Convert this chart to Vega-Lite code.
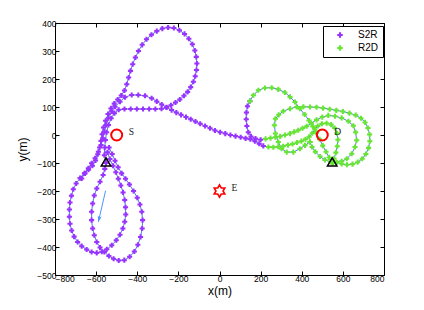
{
"$schema":"https://vega.github.io/schema/vega-lite/v6.json",
"width":329,"height":252,
"autosize":{"type":"none"},
"padding":{"left":55,"top":23,"right":40,"bottom":35},
"background":"white",
"config":{
 "view":{"stroke":"black","strokeWidth":1},
 "font":"Liberation Sans",
 "axis":{"grid":false,"domain":false,"tickColor":"black","tickSize":-4,"labelFontSize":8.5,"labelColor":"black","titleFontSize":12,"titleFontWeight":"normal","titleColor":"black","labelFont":"Liberation Sans","titleFont":"Liberation Sans"}
},
"datasets":{
"traj":[
{"s":"a","p":"S2R","x":-552,"y":-100},{"s":"a","p":"S2R","x":-560,"y":-72},{"s":"a","p":"S2R","x":-558,"y":-45},{"s":"a","p":"S2R","x":-555,"y":-18},{"s":"a","p":"S2R","x":-549,"y":10},{"s":"a","p":"S2R","x":-540,"y":36},{"s":"a","p":"S2R","x":-527,"y":60},{"s":"a","p":"S2R","x":-511,"y":78},{"s":"a","p":"S2R","x":-490,"y":90},{"s":"a","p":"S2R","x":-462,"y":93},{"s":"a","p":"S2R","x":-432,"y":93},{"s":"a","p":"S2R","x":-402,"y":93},{"s":"a","p":"S2R","x":-372,"y":93},{"s":"a","p":"S2R","x":-342,"y":93},{"s":"a","p":"S2R","x":-312,"y":93},{"s":"a","p":"S2R","x":-282,"y":94},{"s":"a","p":"S2R","x":-258,"y":98},{"s":"a","p":"S2R","x":-236,"y":106},{"s":"a","p":"S2R","x":-214,"y":116},{"s":"a","p":"S2R","x":-193,"y":127},{"s":"a","p":"S2R","x":-173,"y":140},{"s":"a","p":"S2R","x":-155,"y":154},{"s":"a","p":"S2R","x":-140,"y":171},{"s":"a","p":"S2R","x":-127,"y":190},{"s":"a","p":"S2R","x":-118,"y":210},{"s":"a","p":"S2R","x":-112,"y":232},{"s":"a","p":"S2R","x":-110,"y":255},{"s":"a","p":"S2R","x":-113,"y":279},{"s":"a","p":"S2R","x":-120,"y":302},{"s":"a","p":"S2R","x":-132,"y":324},{"s":"a","p":"S2R","x":-149,"y":344},{"s":"a","p":"S2R","x":-170,"y":361},{"s":"a","p":"S2R","x":-195,"y":374},{"s":"a","p":"S2R","x":-222,"y":382},{"s":"a","p":"S2R","x":-250,"y":384},{"s":"a","p":"S2R","x":-278,"y":380},{"s":"a","p":"S2R","x":-305,"y":371},{"s":"a","p":"S2R","x":-331,"y":358},{"s":"a","p":"S2R","x":-355,"y":342},{"s":"a","p":"S2R","x":-376,"y":322},{"s":"a","p":"S2R","x":-394,"y":300},{"s":"a","p":"S2R","x":-409,"y":277},{"s":"a","p":"S2R","x":-422,"y":253},{"s":"a","p":"S2R","x":-433,"y":229},{"s":"a","p":"S2R","x":-442,"y":205},{"s":"a","p":"S2R","x":-451,"y":181},{"s":"a","p":"S2R","x":-462,"y":159},{"s":"a","p":"S2R","x":-478,"y":141},{"s":"a","p":"S2R","x":-495,"y":127},{"s":"a","p":"S2R","x":-512,"y":112},{"s":"a","p":"S2R","x":-528,"y":95},{"s":"a","p":"S2R","x":-542,"y":75},{"s":"a","p":"S2R","x":-554,"y":51},{"s":"a","p":"S2R","x":-564,"y":27},{"s":"a","p":"S2R","x":-571,"y":3},{"s":"a","p":"S2R","x":-576,"y":-21},{"s":"a","p":"S2R","x":-583,"y":-45},{"s":"a","p":"S2R","x":-592,"y":-69},{"s":"a","p":"S2R","x":-603,"y":-91},{"s":"a","p":"S2R","x":-618,"y":-110},{"s":"a","p":"S2R","x":-637,"y":-124},{"s":"a","p":"S2R","x":-657,"y":-137},{"s":"a","p":"S2R","x":-678,"y":-154},{"s":"a","p":"S2R","x":-697,"y":-173},{"s":"a","p":"S2R","x":-711,"y":-194},{"s":"a","p":"S2R","x":-720,"y":-217},{"s":"a","p":"S2R","x":-727,"y":-241},{"s":"a","p":"S2R","x":-730,"y":-266},{"s":"a","p":"S2R","x":-730,"y":-292},{"s":"a","p":"S2R","x":-727,"y":-317},{"s":"a","p":"S2R","x":-719,"y":-341},{"s":"a","p":"S2R","x":-707,"y":-363},{"s":"a","p":"S2R","x":-690,"y":-382},{"s":"a","p":"S2R","x":-670,"y":-397},{"s":"a","p":"S2R","x":-646,"y":-409},{"s":"a","p":"S2R","x":-622,"y":-418},{"s":"a","p":"S2R","x":-597,"y":-421},{"s":"a","p":"S2R","x":-572,"y":-417},{"s":"a","p":"S2R","x":-548,"y":-408},{"s":"a","p":"S2R","x":-524,"y":-394},{"s":"a","p":"S2R","x":-502,"y":-376},{"s":"a","p":"S2R","x":-484,"y":-356},{"s":"a","p":"S2R","x":-470,"y":-334},{"s":"a","p":"S2R","x":-461,"y":-310},{"s":"a","p":"S2R","x":-456,"y":-284},{"s":"a","p":"S2R","x":-457,"y":-258},{"s":"a","p":"S2R","x":-461,"y":-232},{"s":"a","p":"S2R","x":-469,"y":-205},{"s":"a","p":"S2R","x":-480,"y":-180},{"s":"a","p":"S2R","x":-492,"y":-156},{"s":"a","p":"S2R","x":-504,"y":-133},{"s":"a","p":"S2R","x":-518,"y":-110},{"s":"a","p":"S2R","x":-533,"y":-86},{"s":"a","p":"S2R","x":-545,"y":-62},
{"s":"b","p":"S2R","x":-552,"y":-100},{"s":"b","p":"S2R","x":-558,"y":-121},{"s":"b","p":"S2R","x":-566,"y":-143},{"s":"b","p":"S2R","x":-581,"y":-167},{"s":"b","p":"S2R","x":-597,"y":-191},{"s":"b","p":"S2R","x":-609,"y":-216},{"s":"b","p":"S2R","x":-617,"y":-245},{"s":"b","p":"S2R","x":-622,"y":-274},{"s":"b","p":"S2R","x":-622,"y":-304},{"s":"b","p":"S2R","x":-617,"y":-334},{"s":"b","p":"S2R","x":-609,"y":-358},{"s":"b","p":"S2R","x":-597,"y":-382},{"s":"b","p":"S2R","x":-581,"y":-402},{"s":"b","p":"S2R","x":-560,"y":-418},{"s":"b","p":"S2R","x":-538,"y":-432},{"s":"b","p":"S2R","x":-515,"y":-442},{"s":"b","p":"S2R","x":-490,"y":-448},{"s":"b","p":"S2R","x":-463,"y":-447},{"s":"b","p":"S2R","x":-437,"y":-435},{"s":"b","p":"S2R","x":-414,"y":-416},{"s":"b","p":"S2R","x":-397,"y":-392},{"s":"b","p":"S2R","x":-384,"y":-364},{"s":"b","p":"S2R","x":-376,"y":-334},{"s":"b","p":"S2R","x":-374,"y":-304},{"s":"b","p":"S2R","x":-378,"y":-274},{"s":"b","p":"S2R","x":-387,"y":-248},{"s":"b","p":"S2R","x":-400,"y":-224},{"s":"b","p":"S2R","x":-418,"y":-200},{"s":"b","p":"S2R","x":-438,"y":-177},{"s":"b","p":"S2R","x":-457,"y":-156},{"s":"b","p":"S2R","x":-476,"y":-137},{"s":"b","p":"S2R","x":-493,"y":-115},{"s":"b","p":"S2R","x":-508,"y":-92},{"s":"b","p":"S2R","x":-522,"y":-68},{"s":"b","p":"S2R","x":-537,"y":-45},
{"s":"c","p":"S2R","x":-670,"y":-155},{"s":"c","p":"S2R","x":-654,"y":-137},{"s":"c","p":"S2R","x":-638,"y":-119},{"s":"c","p":"S2R","x":-622,"y":-101},{"s":"c","p":"S2R","x":-605,"y":-83},{"s":"c","p":"S2R","x":-589,"y":-60},{"s":"c","p":"S2R","x":-576,"y":-36},{"s":"c","p":"S2R","x":-568,"y":-12},{"s":"c","p":"S2R","x":-560,"y":12},{"s":"c","p":"S2R","x":-552,"y":36},{"s":"c","p":"S2R","x":-541,"y":60},{"s":"c","p":"S2R","x":-524,"y":84},{"s":"c","p":"S2R","x":-508,"y":101},{"s":"c","p":"S2R","x":-484,"y":119},{"s":"c","p":"S2R","x":-460,"y":135},{"s":"c","p":"S2R","x":-427,"y":143},{"s":"c","p":"S2R","x":-395,"y":143},{"s":"c","p":"S2R","x":-362,"y":140},{"s":"c","p":"S2R","x":-330,"y":131},{"s":"c","p":"S2R","x":-305,"y":120},{"s":"c","p":"S2R","x":-281,"y":109},{"s":"c","p":"S2R","x":-257,"y":99},{"s":"c","p":"S2R","x":-233,"y":89},{"s":"c","p":"S2R","x":-210,"y":80},{"s":"c","p":"S2R","x":-187,"y":72},{"s":"c","p":"S2R","x":-163,"y":64},{"s":"c","p":"S2R","x":-140,"y":56},{"s":"c","p":"S2R","x":-117,"y":48},{"s":"c","p":"S2R","x":-94,"y":40},{"s":"c","p":"S2R","x":-70,"y":32},{"s":"c","p":"S2R","x":-46,"y":24},{"s":"c","p":"S2R","x":-22,"y":16},{"s":"c","p":"S2R","x":3,"y":10},{"s":"c","p":"S2R","x":28,"y":5},{"s":"c","p":"S2R","x":53,"y":0},{"s":"c","p":"S2R","x":78,"y":-4},{"s":"c","p":"S2R","x":103,"y":-8},{"s":"c","p":"S2R","x":127,"y":-12},{"s":"c","p":"S2R","x":150,"y":-15},{"s":"c","p":"S2R","x":172,"y":-22},{"s":"c","p":"S2R","x":193,"y":-31},{"s":"c","p":"S2R","x":213,"y":-39},
{"s":"c","p":"R2D","x":238,"y":-43},{"s":"c","p":"R2D","x":262,"y":-44},{"s":"c","p":"R2D","x":286,"y":-42},{"s":"c","p":"R2D","x":310,"y":-40},{"s":"c","p":"R2D","x":333,"y":-36},{"s":"c","p":"R2D","x":355,"y":-32},{"s":"c","p":"R2D","x":377,"y":-27},{"s":"c","p":"R2D","x":398,"y":-22},{"s":"c","p":"R2D","x":418,"y":-15},{"s":"c","p":"R2D","x":436,"y":-6},{"s":"c","p":"R2D","x":451,"y":6},{"s":"c","p":"R2D","x":464,"y":20},{"s":"c","p":"R2D","x":478,"y":32},{"s":"c","p":"R2D","x":498,"y":40},{"s":"c","p":"R2D","x":521,"y":42},{"s":"c","p":"R2D","x":543,"y":37},{"s":"c","p":"R2D","x":560,"y":25},{"s":"c","p":"R2D","x":571,"y":6},{"s":"c","p":"R2D","x":576,"y":-17},{"s":"c","p":"R2D","x":573,"y":-40},{"s":"c","p":"R2D","x":566,"y":-63},{"s":"c","p":"R2D","x":557,"y":-84},{"s":"c","p":"R2D","x":550,"y":-100},
{"s":"m","p":"S2R","x":148,"y":121},{"s":"m","p":"S2R","x":136,"y":103},{"s":"m","p":"S2R","x":131,"y":80},{"s":"m","p":"S2R","x":130,"y":56},{"s":"m","p":"S2R","x":133,"y":32},{"s":"m","p":"S2R","x":140,"y":10},{"s":"m","p":"S2R","x":153,"y":-5},{"s":"m","p":"S2R","x":175,"y":-13},{"s":"m","p":"S2R","x":200,"y":-17},
{"s":"m","p":"R2D","x":224,"y":-14},{"s":"m","p":"R2D","x":248,"y":-11},{"s":"m","p":"R2D","x":272,"y":-8},{"s":"m","p":"R2D","x":295,"y":-5},{"s":"m","p":"R2D","x":319,"y":0},{"s":"m","p":"R2D","x":343,"y":5},{"s":"m","p":"R2D","x":363,"y":11},{"s":"m","p":"R2D","x":383,"y":17},{"s":"m","p":"R2D","x":404,"y":24},{"s":"m","p":"R2D","x":424,"y":31},{"s":"m","p":"R2D","x":447,"y":42},{"s":"m","p":"R2D","x":472,"y":54},{"s":"m","p":"R2D","x":500,"y":64},{"s":"m","p":"R2D","x":529,"y":70},{"s":"m","p":"R2D","x":562,"y":67},{"s":"m","p":"R2D","x":594,"y":61},{"s":"m","p":"R2D","x":627,"y":49},{"s":"m","p":"R2D","x":651,"y":33},{"s":"m","p":"R2D","x":662,"y":10},{"s":"m","p":"R2D","x":667,"y":-19},{"s":"m","p":"R2D","x":659,"y":-43},{"s":"m","p":"R2D","x":643,"y":-67},{"s":"m","p":"R2D","x":619,"y":-85},{"s":"m","p":"R2D","x":594,"y":-94},{"s":"m","p":"R2D","x":568,"y":-97},{"s":"m","p":"R2D","x":540,"y":-96},{"s":"m","p":"R2D","x":513,"y":-89},{"s":"m","p":"R2D","x":489,"y":-77},{"s":"m","p":"R2D","x":466,"y":-60},{"s":"m","p":"R2D","x":450,"y":-43},{"s":"m","p":"R2D","x":440,"y":-25},
{"s":"g1","p":"R2D","x":148,"y":121},{"s":"g1","p":"R2D","x":165,"y":142},{"s":"g1","p":"R2D","x":189,"y":160},{"s":"g1","p":"R2D","x":221,"y":168},{"s":"g1","p":"R2D","x":254,"y":169},{"s":"g1","p":"R2D","x":286,"y":163},{"s":"g1","p":"R2D","x":318,"y":152},{"s":"g1","p":"R2D","x":343,"y":136},{"s":"g1","p":"R2D","x":367,"y":118},{"s":"g1","p":"R2D","x":391,"y":94},{"s":"g1","p":"R2D","x":414,"y":73},{"s":"g1","p":"R2D","x":435,"y":52},{"s":"g1","p":"R2D","x":454,"y":30},{"s":"g1","p":"R2D","x":471,"y":8},{"s":"g1","p":"R2D","x":487,"y":-15},{"s":"g1","p":"R2D","x":502,"y":-38},{"s":"g1","p":"R2D","x":518,"y":-60},{"s":"g1","p":"R2D","x":533,"y":-80},{"s":"g1","p":"R2D","x":548,"y":-98},
{"s":"g3","p":"R2D","x":440,"y":-25},{"s":"g3","p":"R2D","x":416,"y":-37},{"s":"g3","p":"R2D","x":391,"y":-49},{"s":"g3","p":"R2D","x":359,"y":-61},{"s":"g3","p":"R2D","x":327,"y":-61},{"s":"g3","p":"R2D","x":302,"y":-49},{"s":"g3","p":"R2D","x":286,"y":-25},{"s":"g3","p":"R2D","x":272,"y":5},{"s":"g3","p":"R2D","x":267,"y":35},{"s":"g3","p":"R2D","x":272,"y":58},{"s":"g3","p":"R2D","x":288,"y":72},{"s":"g3","p":"R2D","x":310,"y":85},{"s":"g3","p":"R2D","x":343,"y":94},{"s":"g3","p":"R2D","x":375,"y":100},{"s":"g3","p":"R2D","x":408,"y":101},{"s":"g3","p":"R2D","x":440,"y":100},{"s":"g3","p":"R2D","x":472,"y":99},{"s":"g3","p":"R2D","x":504,"y":96},{"s":"g3","p":"R2D","x":536,"y":92},{"s":"g3","p":"R2D","x":568,"y":88},{"s":"g3","p":"R2D","x":600,"y":84},{"s":"g3","p":"R2D","x":632,"y":78},{"s":"g3","p":"R2D","x":662,"y":71},{"s":"g3","p":"R2D","x":688,"y":60},{"s":"g3","p":"R2D","x":708,"y":45},{"s":"g3","p":"R2D","x":722,"y":25},{"s":"g3","p":"R2D","x":730,"y":2},{"s":"g3","p":"R2D","x":731,"y":-22},{"s":"g3","p":"R2D","x":725,"y":-46},{"s":"g3","p":"R2D","x":712,"y":-68},{"s":"g3","p":"R2D","x":694,"y":-85},{"s":"g3","p":"R2D","x":672,"y":-97},{"s":"g3","p":"R2D","x":647,"y":-104},{"s":"g3","p":"R2D","x":620,"y":-106},{"s":"g3","p":"R2D","x":594,"y":-103},{"s":"g3","p":"R2D","x":570,"y":-98},{"s":"g3","p":"R2D","x":552,"y":-98}
],
"pts":[
{"name":"S","kind":"circle","x":-500,"y":0},
{"name":"D","kind":"circle","x":500,"y":0},
{"name":"E","kind":"star","x":0,"y":-200},
{"name":"R0","kind":"tri","x":-552,"y":-96},
{"name":"R1","kind":"tri","x":548,"y":-96}
],
"arrow":[{"x":-554,"y":-199,"x2":-589,"y2":-310}]
},
"resolve":{"axis":{"x":"independent","y":"independent"}},
"layer":[
{"data":{"name":"traj"},
 "transform":[{"window":[{"op":"row_number","as":"k"}]}],
 "mark":{"type":"line","color":"#3b6fe0","strokeWidth":0.9},
 "encoding":{
  "x":{"field":"x","type":"quantitative","scale":{"domain":[-800,800],"nice":false,"zero":false},
       "axis":{"orient":"bottom","values":[-800,-600,-400,-200,0,200,400,600,800],"title":"x(m)","labelPadding":3,"titlePadding":3}},
  "y":{"field":"y","type":"quantitative","scale":{"domain":[-500,400],"nice":false,"zero":false},
       "axis":{"orient":"left","values":[-500,-400,-300,-200,-100,0,100,200,300,400],"title":"y(m)","labelPadding":3,"titlePadding":7}},
  "detail":{"field":"s"},
  "order":{"field":"k","type":"quantitative"}
 }},
{"data":{"name":"traj"},
 "mark":{"type":"point","shape":"cross","filled":true,"size":26,"opacity":1},
 "encoding":{
  "x":{"field":"x","type":"quantitative","scale":{"domain":[-800,800],"nice":false,"zero":false},
       "axis":{"orient":"top","values":[-800,-600,-400,-200,0,200,400,600,800],"labels":false,"title":null}},
  "y":{"field":"y","type":"quantitative","scale":{"domain":[-500,400],"nice":false,"zero":false},
       "axis":{"orient":"right","values":[-500,-400,-300,-200,-100,0,100,200,300,400],"labels":false,"title":null}},
  "color":{"field":"p","type":"nominal","scale":{"domain":["S2R","R2D"],"range":["#9933ff","#66e633"]},
   "legend":{"orient":"none","legendX":268,"legendY":3,"title":null,"strokeColor":"black","fillColor":"white","padding":4,"symbolType":"cross","symbolSize":30,"symbolOffset":8,"labelOffset":13,"labelFontSize":10,"labelFont":"Liberation Sans","rowPadding":3}}
 }},
{"data":{"name":"arrow"},
 "mark":{"type":"rule","color":"#4d94ff","strokeWidth":1},
 "encoding":{
  "x":{"field":"x","type":"quantitative","scale":{"domain":[-800,800],"nice":false,"zero":false},"axis":null},
  "y":{"field":"y","type":"quantitative","scale":{"domain":[-500,400],"nice":false,"zero":false},"axis":null},
  "x2":{"field":"x2"},"y2":{"field":"y2"}
 }},
{"data":{"name":"arrow"},
 "mark":{"type":"point","shape":"M0,0 L0.55,1.6 L0,1.2 L-0.55,1.6 Z","angle":193,"size":56,"filled":true,"color":"#4d94ff","opacity":1},
 "encoding":{
  "x":{"field":"x2","type":"quantitative","scale":{"domain":[-800,800],"nice":false,"zero":false},"axis":null},
  "y":{"field":"y2","type":"quantitative","scale":{"domain":[-500,400],"nice":false,"zero":false},"axis":null}
 }},
{"data":{"name":"pts"},
 "transform":[{"filter":"datum.kind == 'circle'"}],
 "mark":{"type":"point","shape":"circle","filled":false,"color":"#ff0000","strokeWidth":2,"size":120,"opacity":1},
 "encoding":{
  "x":{"field":"x","type":"quantitative","scale":{"domain":[-800,800],"nice":false,"zero":false},"axis":null},
  "y":{"field":"y","type":"quantitative","scale":{"domain":[-500,400],"nice":false,"zero":false},"axis":null}
 }},
{"data":{"name":"pts"},
 "transform":[{"filter":"datum.kind == 'star'"}],
 "mark":{"type":"point","shape":"M0,-1 L0.289,-0.5 L0.866,-0.5 L0.577,0 L0.866,0.5 L0.289,0.5 L0,1 L-0.289,0.5 L-0.866,0.5 L-0.577,0 L-0.866,-0.5 L-0.289,-0.5 Z","filled":false,"color":"#ff0000","strokeWidth":1.6,"size":150,"opacity":1},
 "encoding":{
  "x":{"field":"x","type":"quantitative","scale":{"domain":[-800,800],"nice":false,"zero":false},"axis":null},
  "y":{"field":"y","type":"quantitative","scale":{"domain":[-500,400],"nice":false,"zero":false},"axis":null}
 }},
{"data":{"name":"pts"},
 "transform":[{"filter":"datum.kind == 'tri'"}],
 "mark":{"type":"point","shape":"triangle-up","filled":false,"color":"black","strokeWidth":1.5,"size":90,"opacity":1},
 "encoding":{
  "x":{"field":"x","type":"quantitative","scale":{"domain":[-800,800],"nice":false,"zero":false},"axis":null},
  "y":{"field":"y","type":"quantitative","scale":{"domain":[-500,400],"nice":false,"zero":false},"axis":null}
 }},
{"data":{"name":"pts"},
 "transform":[{"filter":"datum.kind != 'tri'"}],
 "mark":{"type":"text","font":"Liberation Serif","fontSize":9.5,"align":"left","baseline":"middle","dx":12,"dy":-3,"color":"#222222"},
 "encoding":{
  "x":{"field":"x","type":"quantitative","scale":{"domain":[-800,800],"nice":false,"zero":false},"axis":null},
  "y":{"field":"y","type":"quantitative","scale":{"domain":[-500,400],"nice":false,"zero":false},"axis":null},
  "text":{"field":"name"}
 }}
]
}
